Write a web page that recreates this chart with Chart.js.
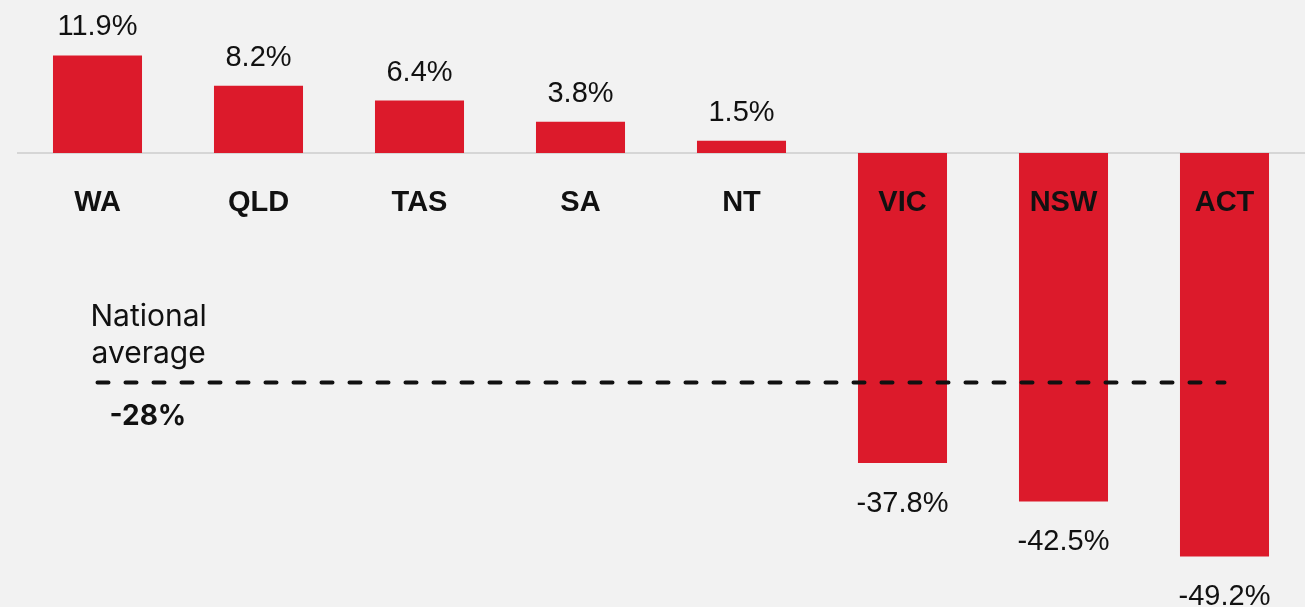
<!DOCTYPE html>
<html>
<head>
<meta charset="utf-8">
<script src="https://cdn.jsdelivr.net/npm/chart.js@4.4.1/dist/chart.umd.min.js"></script>
<style>
html,body{margin:0;padding:0;background:#f2f2f2;}
#wrap{width:1305px;height:607px;position:relative;}
</style>
</head>
<body>
<div id="wrap"><canvas id="c" width="1305" height="607"></canvas></div>
<script>
const categories = ['WA','QLD','TAS','SA','NT','VIC','NSW','ACT'];
const changeValues = [11.9, 8.2, 6.4, 3.8, 1.5, -37.8, -42.5, -49.2];
const nationalAverage = [-28, -28, -28, -28, -28, -28, -28, -28];
const valueLabels = ['11.9%','8.2%','6.4%','3.8%','1.5%','-37.8%','-42.5%','-49.2%'];
const averageLabel = ['National', 'average'];
const averageValueLabel = '-28%';

const RED = '#dc1a2b';

const customDraw = {
  id: 'customDraw',
  beforeDatasetsDraw(chart) {
    const ctx = chart.ctx, y = chart.scales.y, a = chart.chartArea;
    const y0 = y.getPixelForValue(0);
    ctx.save();
    ctx.strokeStyle = '#d6d6d6';
    ctx.lineWidth = 2;
    ctx.beginPath();
    ctx.moveTo(a.left, y0);
    ctx.lineTo(a.right, y0);
    ctx.stroke();
    ctx.restore();
  },
  afterDatasetsDraw(chart) {
    const ctx = chart.ctx, x = chart.scales.x, y = chart.scales.y;
    const y0 = y.getPixelForValue(0);
    const meta = chart.getDatasetMeta(1);
    ctx.save();
    ctx.textAlign = 'center';
    ctx.textBaseline = 'middle';
    // category labels
    ctx.font = 'bold 29px "Liberation Sans", Arial, sans-serif';
    ctx.fillStyle = '#111';
    categories.forEach((c, i) => {
      ctx.fillText(c, x.getPixelForValue(i), y0 + 50);
    });
    // value labels
    ctx.font = '29px "Liberation Sans", Arial, sans-serif';
    meta.data.forEach((bar, i) => {
      const v = changeValues[i];
      const yy = v >= 0 ? bar.y - 28 : bar.y + 41;
      ctx.fillText(valueLabels[i], bar.x, yy);
    });
    // national average annotation
    const yAvg = y.getPixelForValue(nationalAverage[0]);
    const xStart = x.getPixelForValue(0);
    ctx.textAlign = 'left';
    ctx.font = '30px Inter, "Noto Sans", sans-serif';
    ctx.fillText(averageLabel[0], xStart - 7, yAvg - 66);
    ctx.fillText(averageLabel[1], xStart - 6, yAvg - 29);
    ctx.font = 'bold 28px Inter, "Noto Sans", sans-serif';
    ctx.fillText(averageValueLabel, xStart + 12, yAvg + 34);
    ctx.restore();
  }
};

new Chart(document.getElementById('c'), {
  type: 'bar',
  data: {
    labels: categories,
    datasets: [
      {
        type: 'line',
        data: nationalAverage,
        borderColor: '#111',
        borderWidth: 4,
        borderCapStyle: 'round',
        borderDash: [11, 17],
        pointRadius: 0,
        fill: false,
        order: 0
      },
      {
        type: 'bar',
        data: changeValues,
        backgroundColor: RED,
        borderWidth: 0,
        categoryPercentage: 1,
        barPercentage: 0.553,
        order: 1
      }
    ]
  },
  options: {
    responsive: false,
    animation: false,
    devicePixelRatio: 1,
    layout: { padding: { left: 17, right: 0, top: 0, bottom: 0 } },
    plugins: { legend: { display: false }, tooltip: { enabled: false } },
    scales: {
      x: { display: false },
      y: { display: false, min: -55.37, max: 18.66 }
    }
  },
  plugins: [customDraw]
});
</script>
</body>
</html>
